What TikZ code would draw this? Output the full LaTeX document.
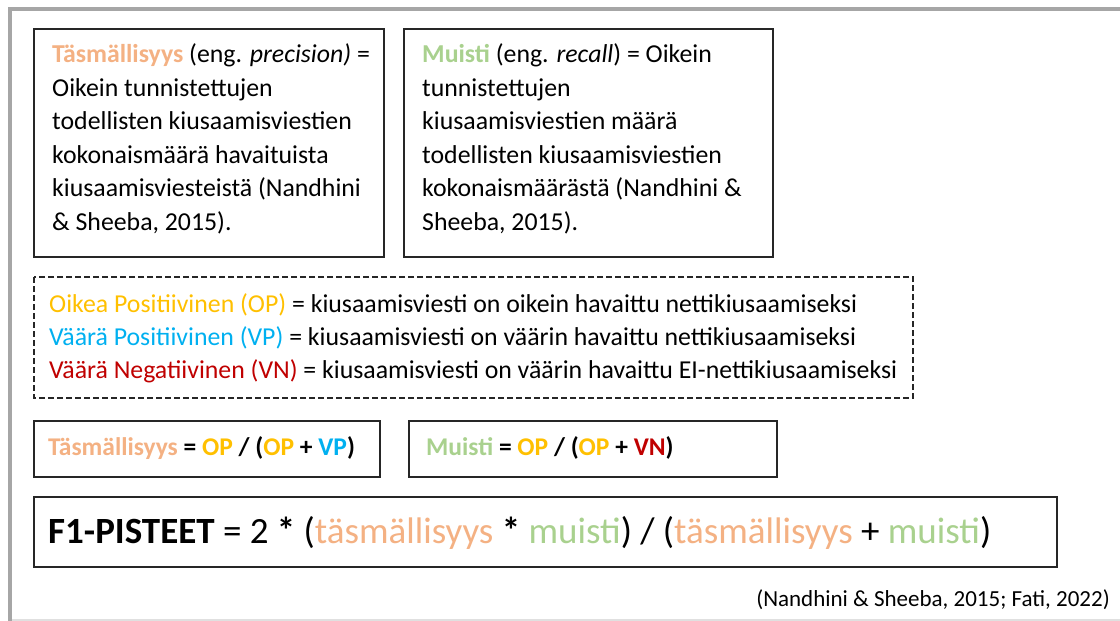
\documentclass[tikz,border=0pt]{standalone}
\usepackage{fontspec}
\setmainfont{Carlito}
\definecolor{tasmcol}{HTML}{F4B183}
\definecolor{muiscol}{HTML}{A9D18E}
\definecolor{opcol}{HTML}{FFC000}
\definecolor{vpcol}{HTML}{00B0F0}
\definecolor{vncol}{HTML}{C00000}
\definecolor{framecol}{HTML}{A6A6A6}
\newcommand{\tasm}[1]{\textcolor{tasmcol}{#1}}
\newcommand{\muis}[1]{\textcolor{muiscol}{#1}}
\begin{document}
\begin{tikzpicture}[x=1pt, y=-1pt,
  box/.style={draw=black!85, line width=1.1pt},
  dashbox/.style={draw=black!85, line width=1.1pt, dash pattern=on 6pt off 3pt},
  txt/.style={anchor=base west, inner sep=0pt, align=left, font=\fontsize{25.8}{33.5}\selectfont},
  formula/.style={anchor=base west, inner sep=0pt, font=\fontsize{25.5}{30}\selectfont\bfseries}]

\useasboundingbox (0,0) rectangle (1120,621);
\fill[white] (0,0) rectangle (1120,621);

% frame
\draw[framecol, line width=4pt] (10,621) -- (10,9) -- (1120,9);
\draw[black!12, line width=2pt] (12,620) -- (1120,620);

% definitions (base = last line)
\draw[box] (34,29) rectangle (384,257);
\node[txt] (tasmdef) at (52,230) {\tasm{\textbf{Täsmällisyys}} (eng. \textit{precision)} =\\
  Oikein tunnistettujen\\
  todellisten kiusaamisviestien\\
  kokonaismäärä havaituista\\
  kiusaamisviesteistä (Nandhini\\
  \& Sheeba, 2015).};

\draw[box] (404,29) rectangle (773,257);
\node[txt] (muisdef) at (422,230) {\muis{\textbf{Muisti}} (eng. \textit{recall}) = Oikein\\
  tunnistettujen\\
  kiusaamisviestien määrä\\
  todellisten kiusaamisviestien\\
  kokonaismäärästä (Nandhini \&\\
  Sheeba, 2015).};

% legend
\draw[dashbox] (34,277) rectangle (913,398);
\node[txt, font=\fontsize{25.8}{32.7}\selectfont] (legend) at (49,378) {\textcolor{opcol}{Oikea Positiivinen (OP)} = kiusaamisviesti on oikein havaittu nettikiusaamiseksi\\
  \textcolor{vpcol}{Väärä Positiivinen (VP)} = kiusaamisviesti on väärin havaittu nettikiusaamiseksi\\
  \textcolor{vncol}{Väärä Negatiivinen (VN)} = kiusaamisviesti on väärin havaittu EI-nettikiusaamiseksi};

% formulas
\draw[box] (34,421) rectangle (380,477);
\node[formula] (tasmeq) at (48,455) {\tasm{Täsmällisyys} = \textcolor{opcol}{OP} / (\textcolor{opcol}{OP} + \textcolor{vpcol}{VP})};

\draw[box] (409,421) rectangle (777,477);
\node[formula] (muiseq) at (426,455) {\muis{Muisti} = \textcolor{opcol}{OP} / (\textcolor{opcol}{OP} + \textcolor{vncol}{VN})};

\draw[box] (34,497) rectangle (1057,567);
\node[anchor=base west, inner sep=0pt, font=\fontsize{37}{42}\selectfont] (f1eq) at (48,543)
  {\textbf{F1-PISTEET} = 2 \textbf{*} (\tasm{täsmällisyys} \textbf{*} \muis{muisti}) / (\tasm{täsmällisyys} + \muis{muisti})};

\node[anchor=base east, inner sep=0pt, font=\fontsize{23}{27}\selectfont] (source) at (1110,606)
  {(Nandhini \& Sheeba, 2015; Fati, 2022)};
\end{tikzpicture}
\end{document}
